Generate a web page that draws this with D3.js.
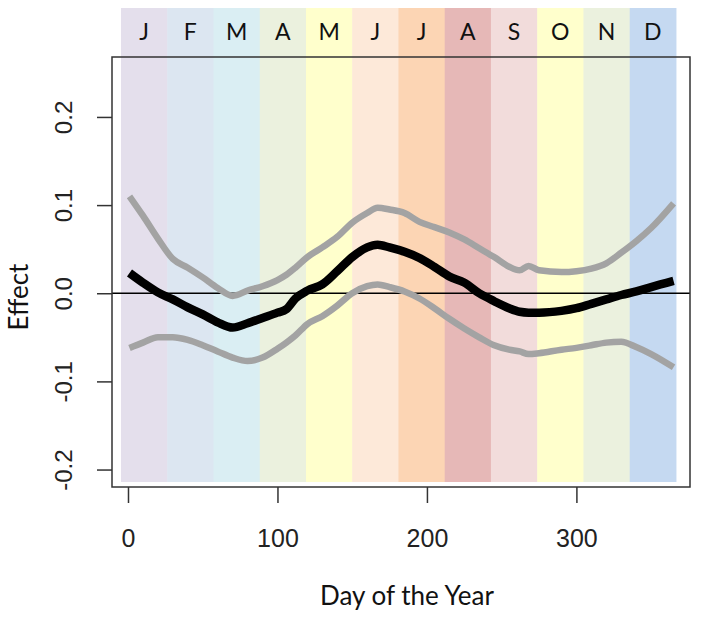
<!DOCTYPE html>
<html><head><meta charset="utf-8">
<script src="https://cdn.jsdelivr.net/npm/d3@7"></script>
<style>body{margin:0;background:#fff}svg{display:block}</style>
</head><body>
<svg id="chart" width="701" height="618"></svg>
<script>
const months = ["J","F","M","A","M","J","J","A","S","O","N","D"];
const monthColors = ["#e4dfec","#dce6f1","#daeef3","#ebf1de","#ffffcc","#fde9d9","#fcd5b4","#e6b8b7","#f2dcdb","#ffffcc","#ebf1de","#c5d9f1"];
const days  = [1,10,20,30,40,50,60,70,80,90,100,106,112,120,130,140,150,160,167,175,185,195,205,215,225,235,245,255,262,268,275,290,300,310,320,330,340,350,365];
const fit   = [0.023,0.012,0.001,-0.007,-0.016,-0.024,-0.033,-0.039,-0.034,-0.028,-0.022,-0.018,-0.006,0.003,0.010,0.025,0.041,0.052,0.055,0.052,0.047,0.040,0.030,0.019,0.012,0.000,-0.009,-0.017,-0.021,-0.022,-0.022,-0.020,-0.017,-0.012,-0.007,-0.002,0.002,0.007,0.014];
const upper = [0.110,0.088,0.062,0.039,0.029,0.018,0.006,-0.003,0.003,0.008,0.015,0.021,0.029,0.041,0.052,0.064,0.080,0.091,0.097,0.095,0.091,0.081,0.075,0.069,0.061,0.051,0.041,0.030,0.026,0.031,0.026,0.024,0.025,0.028,0.034,0.046,0.059,0.074,0.102];
const lower = [-0.062,-0.056,-0.050,-0.050,-0.053,-0.059,-0.066,-0.073,-0.077,-0.073,-0.063,-0.056,-0.048,-0.035,-0.026,-0.014,0.000,0.008,0.010,0.007,0.002,-0.006,-0.017,-0.029,-0.040,-0.050,-0.059,-0.064,-0.066,-0.069,-0.068,-0.064,-0.062,-0.059,-0.056,-0.055,-0.061,-0.069,-0.084];
const xTicks = [0,100,200,300];
const yTicks = [-0.2,-0.1,0.0,0.1,0.2];
const bandDomain = [-4.7, 366.6];

const svg = d3.select("#chart");
const L = 112, R = 690, T = 57, B = 487;
const x = d3.scaleLinear().domain([-10.7, 376]).range([L, R]);
const y = d3.scaleLinear().domain([-0.2198, 0.268]).range([B, T]);

// month bands
const band = d3.scaleBand().domain(d3.range(12)).range([x(bandDomain[0]), x(bandDomain[1])]);
svg.append("g").selectAll("rect").data(months).join("rect")
  .attr("x", (d,i)=>band(i)).attr("width", band.bandwidth()+0.5)
  .attr("y", 8).attr("height", 482-8)
  .attr("fill", (d,i)=>monthColors[i]);
svg.append("g").selectAll("text").data(months).join("text")
  .attr("x", (d,i)=>band(i)+band.bandwidth()/2).attr("y", 40)
  .attr("text-anchor","middle").attr("font-family","Lato, 'Open Sans', sans-serif")
  .attr("font-size",23).attr("fill","#111").text(d=>d);

// zero line
svg.append("line").attr("x1", L).attr("x2", R).attr("y1", y(0)).attr("y2", y(0))
  .attr("stroke","#000").attr("stroke-width",1.6);

const line = d3.line().x((d,i)=>x(days[i])).y(d=>y(d)).curve(d3.curveMonotoneX);
[[upper,"#a3a3a3",6.5],[lower,"#a3a3a3",6.5],[fit,"#000",8.5]].forEach(([s,c,w])=>{
  svg.append("path").datum(s).attr("d", line).attr("fill","none")
    .attr("stroke", c).attr("stroke-width", w).attr("stroke-linejoin","round");
});

// box
svg.append("rect").attr("x", L).attr("y", T).attr("width", R-L).attr("height", B-T)
  .attr("fill","none").attr("stroke","#333").attr("stroke-width",1.5);

// axes
const xa = svg.append("g").attr("transform",`translate(0,${B})`)
  .call(d3.axisBottom(x).tickValues(xTicks).tickSize(16).tickFormat(d3.format("d")));
xa.select(".domain").remove();
xa.selectAll(".tick line").attr("stroke","#333").attr("stroke-width",1.5);
xa.selectAll(".tick text").attr("font-family","'Liberation Sans', Arial, sans-serif")
  .attr("font-size",25).attr("fill","#222").attr("dy",0).attr("y",60);

const fmtY = d => d3.format(".1f")(d).replace("\u2212","-");
const ya = svg.append("g").attr("transform",`translate(${L},0)`)
  .call(d3.axisLeft(y).tickValues(yTicks).tickSize(15).tickFormat(fmtY));
ya.select(".domain").remove();
ya.selectAll(".tick line").attr("stroke","#333").attr("stroke-width",1.5);
ya.selectAll(".tick text").attr("font-family","'Liberation Sans', Arial, sans-serif")
  .attr("font-size",24).attr("fill","#222")
  .attr("x",null).attr("dy",null)
  .attr("text-anchor","middle")
  .attr("transform","translate(-40,0) rotate(-90)");

// axis titles
svg.append("text").attr("x", 407).attr("y", 605).attr("text-anchor","middle")
  .attr("font-family","Lato, 'Open Sans', sans-serif").attr("font-size",26).attr("fill","#111")
  .text("Day of the Year");
svg.append("text").attr("transform","translate(28,297) rotate(-90)").attr("text-anchor","middle")
  .attr("font-family","Lato, 'Open Sans', sans-serif").attr("font-size",26).attr("fill","#111")
  .text("Effect");
</script>
</body></html>
